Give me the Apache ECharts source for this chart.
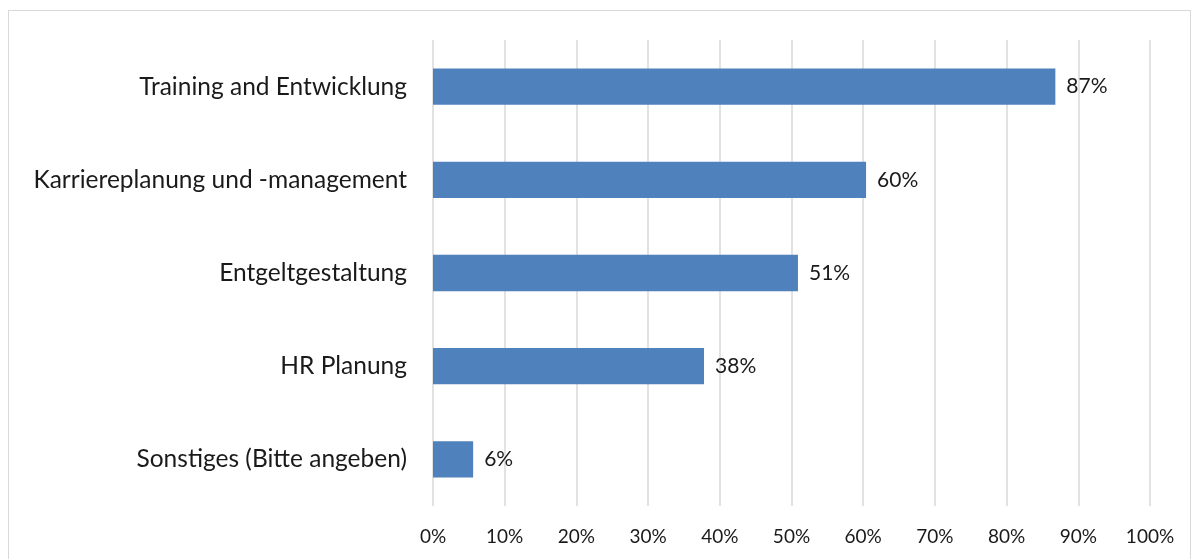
<!DOCTYPE html>
<html>
<head>
<meta charset="utf-8">
<script src="https://cdn.jsdelivr.net/npm/echarts@6/dist/echarts.min.js"></script>
<style>
html,body{margin:0;padding:0;background:#fff;}
#frame{position:absolute;left:8px;top:10px;width:1183px;height:560px;border:1px solid #d9d9d9;box-sizing:border-box;}
#chart{position:absolute;left:0;top:0;width:1199px;height:559px;}
</style>
</head>
<body>
<div id="frame"></div>
<div id="chart"></div>
<script>
const categories = ["Training and Entwicklung", "Karriereplanung und -management", "Entgeltgestaltung", "HR Planung", "Sonstiges (Bitte angeben)"];
const values = [86.8, 60.4, 50.9, 37.8, 5.6];
const valueLabels = ["87%", "60%", "51%", "38%", "6%"];
const tickValues = [0, 10, 20, 30, 40, 50, 60, 70, 80, 90, 100];

const chart = echarts.init(document.getElementById('chart'), null, {renderer: 'canvas'});
const font = "Lato, 'Open Sans', sans-serif";
chart.setOption({
  animation: false,
  grid: {left: 433, right: 49, top: 40, bottom: 53, containLabel: false},
  xAxis: {
    type: 'value', min: 0, max: 100, interval: 10,
    axisLine: {show: false}, axisTick: {show: false},
    splitLine: {show: true, lineStyle: {color: '#d9d9d9', width: 1.5}},
    axisLabel: {formatter: v => v + '%', color: '#1a1a1a', fontSize: 19, fontFamily: font, margin: 21}
  },
  yAxis: {
    type: 'category', data: categories, inverse: true,
    axisLine: {show: false}, axisTick: {show: false},
    axisLabel: {color: '#1a1a1a', fontSize: 24.5, fontFamily: font, margin: 26}
  },
  series: [{
    type: 'bar', data: values, barCategoryGap: '61%',
    itemStyle: {color: '#4f81bd'},
    label: {show: true, position: 'right', distance: 11, color: '#1a1a1a', fontSize: 21, fontFamily: font,
      formatter: p => valueLabels[p.dataIndex]}
  }]
});
</script>
</body>
</html>
